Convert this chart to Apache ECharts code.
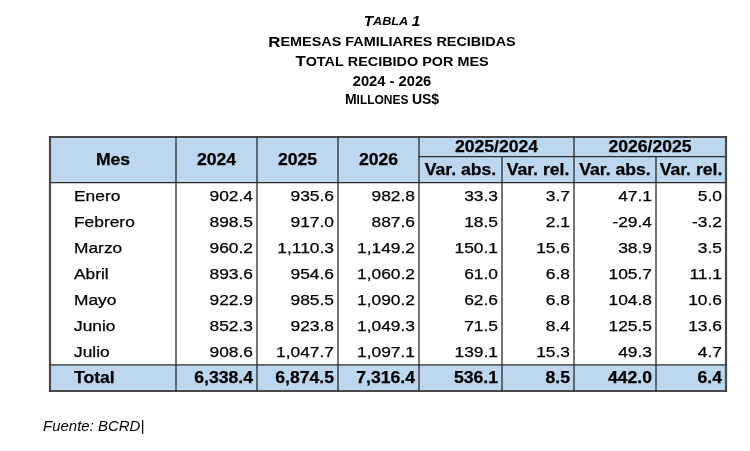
<!DOCTYPE html>
<html>
<head>
<meta charset="utf-8">
<script src="https://cdn.jsdelivr.net/npm/echarts@6/dist/echarts.min.js"></script>
<style>
html,body{margin:0;padding:0;background:#fff;}
#tabla{width:750px;height:451px;}
</style>
</head>
<body>
<div id="tabla"></div>
<script>
// datos de la tabla
var meses = ['Enero', 'Febrero', 'Marzo', 'Abril', 'Mayo', 'Junio', 'Julio'];
var v2024 = [902.4, 898.5, 960.2, 893.6, 922.9, 852.3, 908.6];
var v2025 = [935.6, 917.0, 1110.3, 954.6, 985.5, 923.8, 1047.7];
var v2026 = [982.8, 887.6, 1149.2, 1060.2, 1090.2, 1049.3, 1097.1];
var abs2524 = [33.3, 18.5, 150.1, 61.0, 62.6, 71.5, 139.1];
var rel2524 = [3.7, 2.1, 15.6, 6.8, 6.8, 8.4, 15.3];
var abs2625 = [47.1, -29.4, 38.9, 105.7, 104.8, 125.5, 49.3];
var rel2625 = [5.0, -3.2, 3.5, 11.1, 10.6, 13.6, 4.7];
var totales = [6338.4, 6874.5, 7316.4, 536.1, 8.5, 442.0, 6.4];
var encabezados = ['Mes', '2024', '2025', '2026'];
var grupos = ['2025/2024', '2026/2025'];
var subEncabezados = ['Var. abs.', 'Var. rel.', 'Var. abs.', 'Var. rel.'];

// bordes de columna (px) y filas (unidades del eje y)
var xBordes = [50, 176, 257, 338, 419, 502, 574, 656, 726];
var FILA_TOP = -1.75, FILA_SPLIT = -1, FILA_TOTAL = meses.length, FILA_FIN = meses.length + 1;
var AZUL = '#bdd7ee';
var FUENTE = '"Liberation Sans", Arial, sans-serif';

function fmt(v) {
	var s = Math.abs(v).toFixed(1).split('.');
	s[0] = s[0].replace(/\B(?=(\d{3})+(?!\d))/g, ',');
	return (v < 0 ? '-' : '') + s.join('.');
}

// celdas
var celdas = [];
for (var i = 0; i < encabezados.length; i++) {
	celdas.push({c0: i, c1: i + 1, r0: FILA_TOP, r1: 0, texto: encabezados[i], fondo: AZUL, negrita: true, alin: 'center'});
}
for (var i = 0; i < grupos.length; i++) {
	celdas.push({c0: 4 + i * 2, c1: 6 + i * 2, r0: FILA_TOP, r1: FILA_SPLIT, texto: grupos[i], fondo: AZUL, negrita: true, alin: 'center'});
}
for (var i = 0; i < subEncabezados.length; i++) {
	celdas.push({c0: 4 + i, c1: 5 + i, r0: FILA_SPLIT, r1: 0, texto: subEncabezados[i], fondo: AZUL, negrita: true, alin: 'center'});
}
var columnas = [v2024, v2025, v2026, abs2524, rel2524, abs2625, rel2625];
for (var r = 0; r < meses.length; r++) {
	celdas.push({c0: 0, c1: 1, r0: r, r1: r + 1, texto: meses[r], alin: 'left'});
	for (var c = 0; c < columnas.length; c++) {
		celdas.push({c0: c + 1, c1: c + 2, r0: r, r1: r + 1, texto: fmt(columnas[c][r]), alin: 'right'});
	}
}
celdas.push({c0: 0, c1: 1, r0: FILA_TOTAL, r1: FILA_FIN, texto: 'Total', fondo: AZUL, negrita: true, alin: 'left'});
for (var c = 0; c < totales.length; c++) {
	celdas.push({c0: c + 1, c1: c + 2, r0: FILA_TOTAL, r1: FILA_FIN, texto: fmt(totales[c]), fondo: AZUL, negrita: true, alin: 'right'});
}

// lineas de la tabla: [x0col, x1col, y0, y1, exterior]
var lineas = [];
lineas.push([0, 8, FILA_TOP, FILA_TOP, 1]);
lineas.push([4, 8, FILA_SPLIT, FILA_SPLIT, 0]);
lineas.push([0, 8, 0, 0, 0]);
lineas.push([0, 8, FILA_TOTAL, FILA_TOTAL, 0]);
lineas.push([0, 8, FILA_FIN, FILA_FIN, 1]);
for (var c = 0; c < xBordes.length; c++) {
	var arriba = (c === 5 || c === 7) ? FILA_SPLIT : FILA_TOP;
	lineas.push([c, c, arriba, FILA_FIN, (c === 0 || c === 8) ? 1 : 0]);
}

function dibujarCelda(params, api) {
	var d = celdas[params.dataIndex];
	var p0 = api.coord([xBordes[d.c0], d.r0]);
	var p1 = api.coord([xBordes[d.c1], d.r1]);
	var hijos = [];
	if (d.fondo) {
		hijos.push({type: 'rect', shape: {x: p0[0], y: p0[1], width: p1[0] - p0[0], height: p1[1] - p0[1]}, style: {fill: d.fondo}});
	}
	var tx = d.alin === 'left' ? p0[0] + 24 : (d.alin === 'right' ? p1[0] - 4 : (p0[0] + p1[0]) / 2);
	hijos.push({
		type: 'text', x: tx, y: (p0[1] + p1[1]) / 2 + 1, scaleX: d.negrita ? 1.1 : 1.12,
		style: {
			text: d.texto, align: d.alin, verticalAlign: 'middle',
			font: (d.negrita ? 'bold 16px ' : '15.5px ') + FUENTE, fill: '#000',
			stroke: '#000', lineWidth: 0.25
		}
	});
	return {type: 'group', children: hijos};
}

function dibujarLinea(params, api) {
	var l = lineas[params.dataIndex];
	var a = api.coord([xBordes[l[0]], l[2]]);
	var b = api.coord([xBordes[l[1]], l[3]]);
	return {
		type: 'line', shape: {x1: a[0], y1: a[1], x2: b[0], y2: b[1]},
		style: {stroke: l[4] ? '#4a4a4a' : '#2b2b2b', lineWidth: l[4] ? 2.2 : 1.3, lineCap: 'square'}
	};
}

// titulo en versalitas
var estilosTitulo = {
	bi: {font: 'italic bold 14px ' + FUENTE},
	bis: {font: 'italic bold 11.5px ' + FUENTE},
	b: {font: 'bold 14px ' + FUENTE},
	s: {font: 'bold 12px ' + FUENTE}
};
var lineasTitulo = [
	['{bi|T}{bis|ABLA }{bi|1}', 22, 1.1],
	['{b|R}{s|EMESAS FAMILIARES RECIBIDAS}', 43, 1.2],
	['{b|T}{s|OTAL RECIBIDO POR MES}', 62.5, 1.2],
	['{b|2024 - 2026}', 82, 1.05],
	['{b|M}{s|ILLONES }{b|US$}', 100.5, 1.0]
];
var graficos = lineasTitulo.map(function (t) {
	return {
		type: 'text', x: 392, y: t[1], scaleX: t[2],
		style: {text: t[0], align: 'center', verticalAlign: 'middle', fill: '#000', rich: estilosTitulo}
	};
});
graficos.push({
	type: 'text', x: 43, y: 427, scaleX: 1.07,
	style: {text: 'Fuente: BCRD|', font: 'italic 14px ' + FUENTE, fill: '#000', verticalAlign: 'middle'}
});

var chart = echarts.init(document.getElementById('tabla'));
var option = {
	animation: false,
	backgroundColor: '#fff',
	grid: {left: 0, right: 0, top: 137, bottom: 60},
	xAxis: {type: 'value', min: 0, max: 750, show: false},
	yAxis: {type: 'value', min: FILA_TOP, max: FILA_FIN, inverse: true, show: false},
	graphic: graficos,
	series: [{
		type: 'custom',
		coordinateSystem: 'cartesian2d',
		renderItem: dibujarCelda,
		data: celdas.map(function (d) { return [xBordes[d.c0], d.r0]; }),
		silent: true,
		z: 1
	}, {
		type: 'custom',
		coordinateSystem: 'cartesian2d',
		renderItem: dibujarLinea,
		data: lineas.map(function (l) { return [xBordes[l[0]], l[2]]; }),
		silent: true,
		z: 2
	}]
};
chart.setOption(option);
</script>
</body>
</html>
